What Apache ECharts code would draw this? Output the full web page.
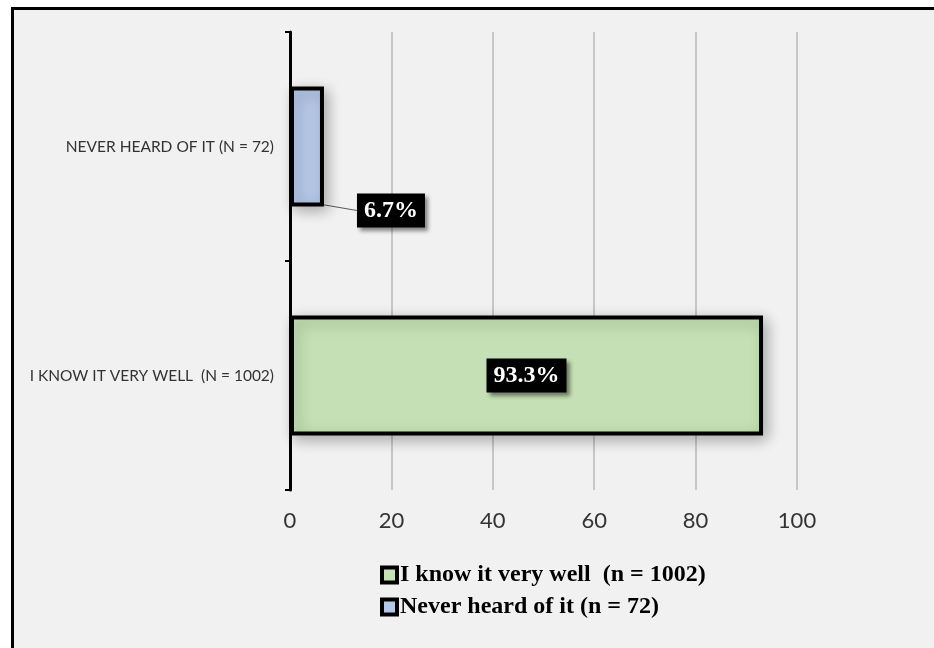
<!DOCTYPE html>
<html>
<head>
<meta charset="utf-8">
<script src="https://cdn.jsdelivr.net/npm/echarts@6/dist/echarts.min.js"></script>
<style>
  html, body { margin: 0; padding: 0; background: #ffffff; }
  #chart { width: 934px; height: 648px; }
</style>
</head>
<body>
<div id="chart"></div>
<script>
// Response categories (first entry sits at the bottom of the axis)
const categories = ['I KNOW IT VERY WELL  (N = 1002)', 'NEVER HEARD OF IT (N = 72)'];
// Share of respondents, percent
const knowWell = [93.3, '-'];
const neverHeard = ['-', 6.7];
const seriesNames = ['I know it very well  (n = 1002)', 'Never heard of it (n = 72)'];
const xTicks = [0, 20, 40, 60, 80, 100];

const chart = echarts.init(document.getElementById('chart'), null, { renderer: 'canvas' });

const valueLabel = {
  show: true,
  formatter: p => p.value.toFixed(1) + '%',
  color: '#ffffff',
  fontFamily: 'Liberation Serif',
  fontWeight: 'bold',
  fontSize: 24,
  backgroundColor: '#000000',
  padding: [6, 7, 4, 7],
  shadowColor: 'rgba(0,0,0,0.45)',
  shadowBlur: 4,
  shadowOffsetX: 3,
  shadowOffsetY: 3
};

const barStyle = color => ({
  color: color,
  borderColor: '#000000',
  borderWidth: 4,
  shadowColor: 'rgba(0,0,0,0.28)',
  shadowBlur: 14,
  shadowOffsetX: 4,
  shadowOffsetY: 4
});

chart.setOption({
  backgroundColor: '#ffffff',
  animation: false,
  graphic: [{
    type: 'rect',
    z: -10,
    silent: true,
    shape: { x: 12.5, y: 8.5, width: 1000, height: 1000 },
    style: { fill: '#f1f1f1', stroke: '#000000', lineWidth: 3 }
  }],
  grid: { left: 290, right: 137, top: 32, bottom: 158 },
  legend: {
    orient: 'vertical',
    left: 375,
    top: 558,
    itemGap: 8,
    itemWidth: 15,
    itemHeight: 15,
    icon: 'rect',
    itemStyle: { borderColor: '#000000', borderWidth: 4, shadowBlur: 0, shadowOffsetX: 0, shadowOffsetY: 0 },
    textStyle: {
      fontFamily: 'Liberation Serif',
      fontWeight: 'bold',
      fontSize: 24,
      color: '#000000',
      padding: [0, 0, 0, -2]
    },
    data: seriesNames
  },
  xAxis: {
    type: 'value',
    min: 0,
    max: 100,
    interval: 20,
    axisLine: { show: false },
    axisTick: { show: false },
    splitLine: { lineStyle: { color: '#b8b8b8', width: 1.5 } },
    axisLabel: {
      fontFamily: 'Lato',
      fontSize: 22,
      color: '#333333',
      margin: 20,
      formatter: v => (xTicks.includes(v) ? String(v) : '')
    }
  },
  yAxis: {
    type: 'category',
    data: categories,
    axisLine: { show: true, lineStyle: { color: '#000000', width: 3 } },
    axisTick: { show: true, length: 5, lineStyle: { color: '#000000', width: 2 } },
    axisLabel: {
      fontFamily: 'Lato',
      fontSize: 15.5,
      color: '#333333',
      margin: 16
    }
  },
  series: [
    {
      name: seriesNames[0],
      type: 'bar',
      data: knowWell,
      barWidth: 120,
      barGap: '-100%',
      itemStyle: barStyle('#c5e0b4'),
      label: Object.assign({ position: 'inside' }, valueLabel)
    },
    {
      name: seriesNames[1],
      type: 'bar',
      data: neverHeard,
      barWidth: 120,
      itemStyle: barStyle('#b4c7e7'),
      label: Object.assign({ position: 'right', distance: 5 }, valueLabel),
      labelLayout: { dx: 28, dy: 64 },
      labelLine: { show: true, lineStyle: { color: '#595959', width: 1 } }
    }
  ]
});
</script>
</body>
</html>
